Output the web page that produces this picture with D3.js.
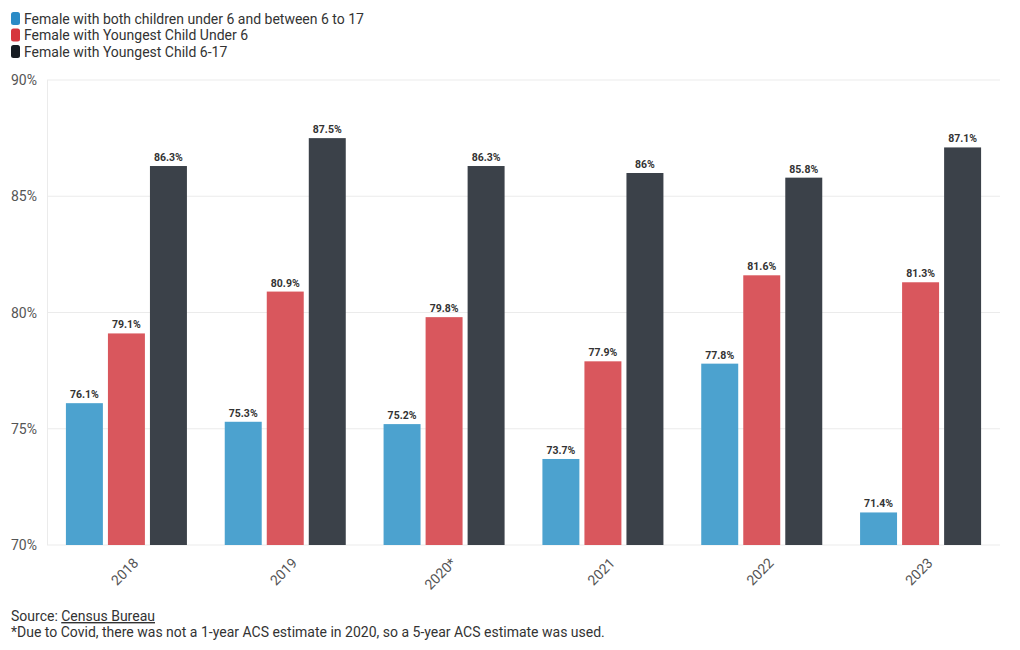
<!DOCTYPE html>
<html><head><meta charset="utf-8">
<script src="https://cdn.jsdelivr.net/npm/d3@7"></script>
<style>
body{margin:0;background:#fff;font-family:Roboto, "Noto Sans", sans-serif;}
</style></head><body>
<svg id="chart" width="1020" height="650"></svg>
<script>
const years = ["2018","2019","2020*","2021","2022","2023"];
const seriesNames = ["Female with both children under 6 and between 6 to 17","Female with Youngest Child Under 6","Female with Youngest Child 6-17"];
const bothChildren = [76.1,75.3,75.2,73.7,77.8,71.4];
const youngestUnder6 = [79.1,80.9,79.8,77.9,81.6,81.3];
const youngest6to17 = [86.3,87.5,86.3,86,85.8,87.1];
const yTicks = [70,75,80,85,90];
const barColors = ["#4ca2cf","#d9575d","#3b4149"];
const swatchColors = ["#2b8bc6","#d6363d","#161b22"];

const series = [bothChildren, youngestUnder6, youngest6to17];
const svg = d3.select("#chart");
const m = {l:47, r:1000, t:80, b:545};

const x0 = d3.scaleBand().domain(years).range([m.l, m.r]).paddingInner(0).paddingOuter(0);
const x1 = d3.scaleBand().domain([0,1,2]).range([0, x0.bandwidth()]).paddingInner(0.12).paddingOuter(0.45);
const y = d3.scaleLinear().domain([70,90]).range([m.b, m.t]);

// grid
svg.append("g").selectAll("line").data(yTicks).join("line")
  .attr("x1", m.l).attr("x2", m.r).attr("y1", d=>y(d)).attr("y2", d=>y(d))
  .attr("stroke","#ebebeb").attr("stroke-width",1);
svg.append("line").attr("x1",m.l+0.5).attr("x2",m.l+0.5).attr("y1",m.t).attr("y2",m.b)
  .attr("stroke","#ebebeb");

// y axis labels
svg.append("g").selectAll("text").data(yTicks).join("text")
  .attr("x", 37).attr("y", d=>y(d)+5).attr("text-anchor","end")
  .attr("font-size",14).attr("fill","#555")
  .text(d=>d+"%");

// bars
const groups = svg.append("g").selectAll("g").data(years).join("g")
  .attr("transform", d=>`translate(${x0(d)},0)`);
groups.each(function(yr, i){
  const g = d3.select(this);
  series.forEach((s, k)=>{
    g.append("rect").attr("x", x1(k)).attr("width", x1.bandwidth())
      .attr("y", y(s[i])).attr("height", y(70)-y(s[i]))
      .attr("fill", barColors[k]);
    g.append("text").attr("x", x1(k)+x1.bandwidth()/2).attr("y", y(s[i])-5)
      .attr("text-anchor","middle").attr("font-size",10.5).attr("font-weight","bold")
      .attr("fill","#333").text(s[i]+"%");
  });
});

// x labels
svg.append("g").selectAll("text").data(years).join("text")
  .attr("transform", d=>`translate(${x0(d)+x0.bandwidth()/2+6},${m.b+12}) rotate(-45)`)
  .attr("text-anchor","end").attr("dy","0.7em").attr("font-size",14).attr("fill","#555")
  .text(d=>d);

// legend
const lg = svg.append("g").selectAll("g").data(seriesNames).join("g")
  .attr("transform",(d,i)=>`translate(11,${12+i*16.5})`);
lg.append("rect").attr("width",9).attr("height",13).attr("rx",2.5).attr("fill",(d,i)=>swatchColors[i]);
lg.append("text").attr("x",13).attr("y",11.5).attr("font-size",14).attr("fill","#333").text(d=>d);

// footer
const src = svg.append("text").attr("x",11).attr("y",621).attr("font-size",14).attr("fill","#333");
src.append("tspan").text("Source: ");
src.append("tspan").attr("text-decoration","underline").text("Census Bureau");
svg.append("text").attr("x",11).attr("y",637).attr("font-size",14).attr("fill","#333")
  .text("*Due to Covid, there was not a 1-year ACS estimate in 2020, so a 5-year ACS estimate was used.");
</script></body></html>
